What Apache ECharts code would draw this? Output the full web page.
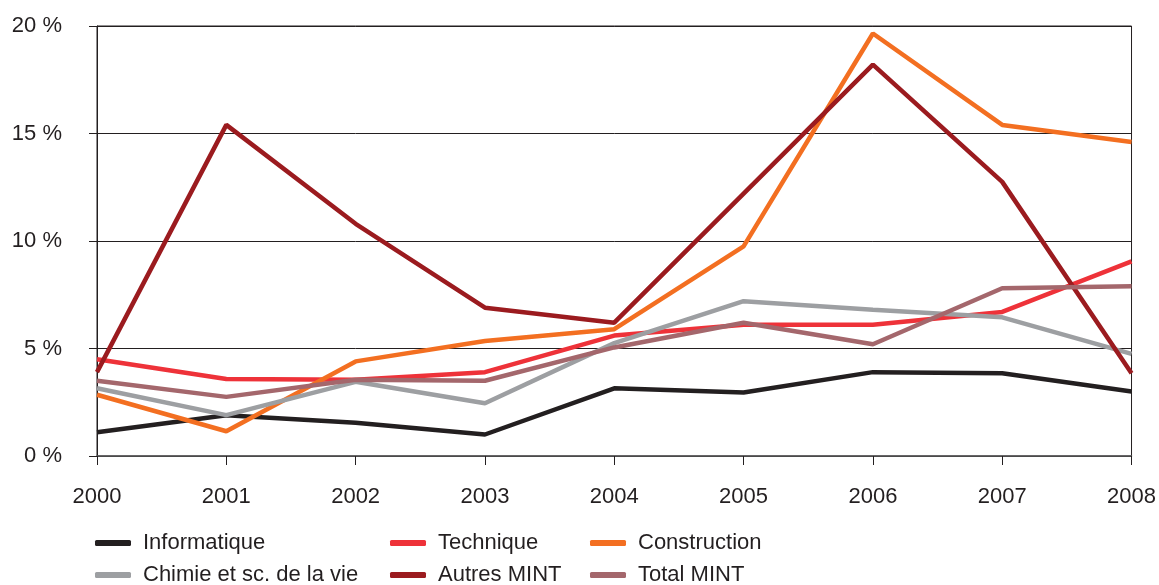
<!DOCTYPE html>
<html>
<head>
<meta charset="utf-8">
<script src="https://cdn.jsdelivr.net/npm/echarts@6/dist/echarts.min.js"></script>
<style>html,body{margin:0;padding:0;background:#fff;}#c{width:1159px;height:585px;}</style>
</head>
<body>
<div id="c"></div>
<script>
var years = ['2000','2001','2002','2003','2004','2005','2006','2007','2008'];
var informatique = [1.1, 1.9, 1.55, 1.0, 3.15, 2.95, 3.9, 3.85, 3.0];
var technique = [4.5, 3.58, 3.55, 3.9, 5.6, 6.1, 6.1, 6.7, 9.05];
var construction = [2.85, 1.15, 4.4, 5.35, 5.9, 9.75, 19.65, 15.4, 14.6];
var chimie = [3.15, 1.9, 3.45, 2.45, 5.25, 7.2, 6.8, 6.45, 4.75];
var autres = [3.9, 15.4, 10.8, 6.9, 6.2, 12.2, 18.2, 12.75, 3.85];
var total = [3.5, 2.75, 3.55, 3.5, 5.05, 6.2, 5.2, 7.8, 7.9];
var yTicks = [0, 5, 10, 15, 20];

var names = ['Informatique','Technique','Construction','Chimie et sc. de la vie','Autres MINT','Total MINT'];
var colors = ['#231f20','#ee3239','#f36f21','#9d9fa2','#9b1b1f','#a4676c'];
var datasets = [informatique, technique, construction, chimie, autres, total];
var legendLeft = [95, 390, 590, 95, 390, 590];
var legendTop = [532, 532, 532, 564, 564, 564];

var txt = {fontFamily:'Liberation Sans, Arial, sans-serif', fontSize:22, color:'#231f20'};
var legends = names.map(function(n, i){
  return {
    orient:'horizontal', left:legendLeft[i], top:legendTop[i], padding:0,
    itemWidth:36, itemHeight:6, icon:'roundRect',
    textStyle:Object.assign({padding:[0,0,0,7]}, txt),
    data:[n]
  };
});
var option = {
  animation:false,
  backgroundColor:'#fff',
  grid:{left:97, right:25, top:26, bottom:129, show:true, borderColor:'#231f20', borderWidth:1, backgroundColor:'transparent'},
  legend:legends,
  xAxis:{
    type:'category', data:years, boundaryGap:false,
    axisLine:{lineStyle:{color:'#5a5a5a', width:1.5}},
    axisTick:{show:true, length:9, lineStyle:{color:'#231f20'}},
    axisLabel:Object.assign({margin:30}, txt)
  },
  yAxis:{
    type:'value', min:0, max:20, interval:5,
    axisLine:{show:true, lineStyle:{color:'#231f20'}},
    axisTick:{show:true, length:8, inside:false, lineStyle:{color:'#231f20'}},
    splitLine:{show:true, lineStyle:{color:'#231f20', width:1}},
    axisLabel:Object.assign({margin:35, formatter:function(v){return v+' %';}}, txt)
  },
  series: datasets.map(function(d,i){
    return {
      name:names[i], type:'line', data:d, showSymbol:false, symbol:'none',
      lineStyle:{width:4.5, color:colors[i]}, itemStyle:{color:colors[i]},
      z:2+i
    };
  })
};
echarts.init(document.getElementById('c')).setOption(option);
</script>
</body>
</html>
